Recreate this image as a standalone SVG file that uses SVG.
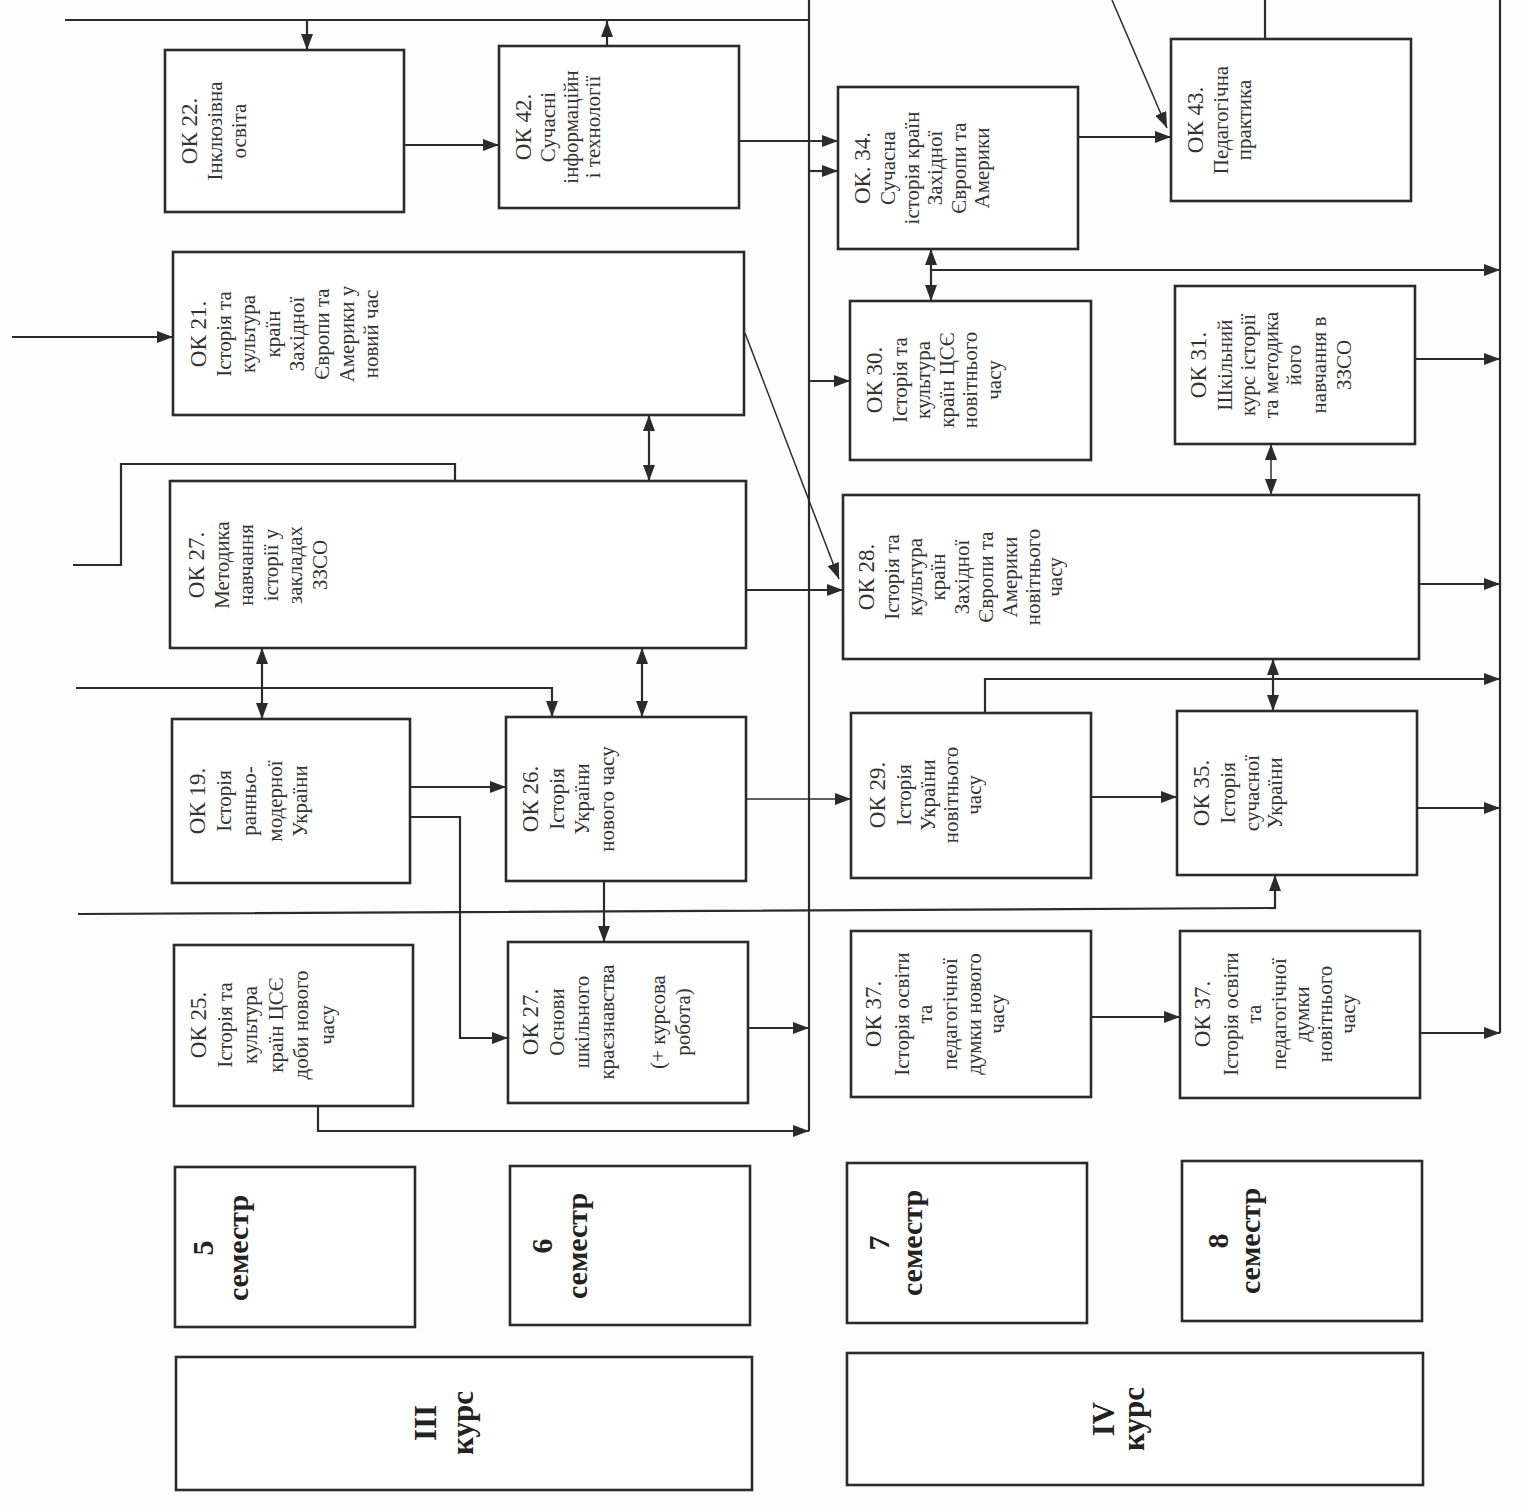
<svg xmlns="http://www.w3.org/2000/svg" width="1527" height="1505" viewBox="0 0 1527 1505">
<defs>
<marker id="ah" markerUnits="userSpaceOnUse" markerWidth="16" markerHeight="12" refX="16" refY="6" orient="auto-start-reverse"><path d="M0,0 L16,6 L0,12 z" fill="#2b2b2b"/></marker>
<style>
.box{fill:#fff;stroke:#2b2b2b;stroke-width:2.6}
.ln{fill:none;stroke:#2b2b2b;stroke-width:2.2}
.thin{fill:none;stroke:#2b2b2b;stroke-width:1.5}
.a{marker-end:url(#ah)}
.d{marker-start:url(#ah);marker-end:url(#ah)}
.t{font-family:"Liberation Serif","Times New Roman",serif;font-size:21px;fill:#333;text-anchor:middle}
.t .h{font-size:23px}
.s{font-family:"Liberation Serif","Times New Roman",serif;font-size:30px;font-weight:bold;fill:#222;text-anchor:middle}
.k{font-family:"Liberation Serif","Times New Roman",serif;font-size:31px;font-weight:bold;fill:#222;text-anchor:middle}
</style>
</defs>
<rect width="1527" height="1505" fill="#fdfdfd"/>

<g id="connectors">
<path class="ln" d="M809,0 V1131"/>
<path class="ln" d="M1500,0 V1033"/>
<path class="ln" d="M65,20 H809"/>
<path class="ln a" d="M307,20 V50"/>
<path class="ln a" d="M607,46 V21"/>
<path class="ln a" d="M404,145 H499"/>
<path class="ln a" d="M739,141 H838"/>
<path class="ln a" d="M809,171 H838"/>
<path class="thin a" d="M1112,0 L1167,128"/>
<path class="ln" d="M1265,0 V39"/>
<path class="ln a" d="M1078,137 H1171"/>
<path class="ln d" d="M931,249 V301"/>
<path class="ln a" d="M931,270 H1500"/>
<path class="ln a" d="M12,337 H173"/>
<path class="ln d" d="M649,415 V481"/>
<path class="thin a" d="M745,333 L839,579"/>
<path class="ln a" d="M809,381 H850"/>
<path class="ln a" d="M1415,359 H1500"/>
<path class="thin d" d="M1271,444 V495"/>
<path class="ln" d="M73,565 H121 V464 H455 V481"/>
<path class="ln a" d="M746,590 H843"/>
<path class="ln a" d="M1419,584 H1500"/>
<path class="ln a" d="M76,688 H552 V717"/>
<path class="ln d" d="M262,648 V719"/>
<path class="ln d" d="M642,648 V717"/>
<path class="ln d" d="M1273,659 V711"/>
<path class="ln a" d="M985,713 V679 H1500"/>
<path class="ln a" d="M410,787 H506"/>
<path class="ln a" d="M410,817 H460 V1038 H508"/>
<path class="thin a" d="M746,799 H851"/>
<path class="ln a" d="M1091,797 H1177"/>
<path class="ln a" d="M1417,808 H1500"/>
<path class="ln a" d="M78,914 L1275,908 V875"/>
<path class="ln a" d="M604,881 V942"/>
<path class="ln a" d="M748,1028 H809"/>
<path class="ln a" d="M318,1106 V1131 H809"/>
<path class="ln a" d="M1091,1017 H1180"/>
<path class="ln a" d="M1420,1033 H1500"/>
</g>

<g id="ok22"><rect class="box" x="165" y="50" width="239" height="162"/>
<text class="t" transform="translate(197,131) rotate(-90)"><tspan class="h" x="0" y="0">ОК 22.</tspan><tspan x="0" dy="24.5">Інклюзівна</tspan><tspan x="0" dy="24.5">освіта</tspan></text></g>

<g id="ok42"><rect class="box" x="499" y="46" width="240" height="162"/>
<text class="t" transform="translate(531,127) rotate(-90)"><tspan class="h" x="0" y="0">ОК 42.</tspan><tspan x="0" dy="24">Сучасні</tspan><tspan x="0" dy="23">інформаційн</tspan><tspan x="0" dy="22">і технології</tspan></text></g>

<g id="ok21"><rect class="box" x="173" y="252" width="571" height="163"/>
<text class="t" transform="translate(206,334) rotate(-90)"><tspan class="h" x="0" y="0">ОК 21.</tspan><tspan x="0" dy="24.6">Історія та</tspan><tspan x="0" dy="24.6">культура</tspan><tspan x="0" dy="24.6">країн</tspan><tspan x="0" dy="24.6">Західної</tspan><tspan x="0" dy="24.6">Європи та</tspan><tspan x="0" dy="24.6">Америки у</tspan><tspan x="0" dy="24.6">новий час</tspan></text></g>

<g id="ok27m"><rect class="box" x="170" y="481" width="576" height="167"/>
<text class="t" transform="translate(204,565) rotate(-90)"><tspan class="h" x="0" y="0">ОК 27.</tspan><tspan x="0" dy="24.6">Методика</tspan><tspan x="0" dy="24.6">навчання</tspan><tspan x="0" dy="24.6">історії у</tspan><tspan x="0" dy="24.6">закладах</tspan><tspan x="0" dy="24.6">ЗЗСО</tspan></text></g>

<g id="ok19"><rect class="box" x="172" y="719" width="238" height="164"/>
<text class="t" transform="translate(205,801) rotate(-90)"><tspan class="h" x="0" y="0">ОК 19.</tspan><tspan x="0" dy="25.5">Історія</tspan><tspan x="0" dy="25.5">ранньо-</tspan><tspan x="0" dy="25.5">модерної</tspan><tspan x="0" dy="25.5">України</tspan></text></g>

<g id="ok26"><rect class="box" x="506" y="717" width="240" height="164"/>
<text class="t" transform="translate(538,799) rotate(-90)"><tspan class="h" x="0" y="0">ОК 26.</tspan><tspan x="0" dy="25.5">Історія</tspan><tspan x="0" dy="25.5">України</tspan><tspan x="0" dy="25">нового часу</tspan></text></g>

<g id="ok25"><rect class="box" x="174" y="945" width="239" height="161"/>
<text class="t" transform="translate(206,1025) rotate(-90)"><tspan class="h" x="0" y="0">ОК 25.</tspan><tspan x="0" dy="25.5">Історія та</tspan><tspan x="0" dy="25.5">культура</tspan><tspan x="0" dy="25.5">країн ЦСЄ</tspan><tspan x="0" dy="25.5">доби нового</tspan><tspan x="0" dy="25.5">часу</tspan></text></g>

<g id="ok27o"><rect class="box" x="508" y="942" width="240" height="161"/>
<text class="t" transform="translate(538,1022) rotate(-90)"><tspan class="h" x="0" y="0">ОК 27.</tspan><tspan x="0" dy="25.5">Основи</tspan><tspan x="0" dy="25">шкільного</tspan><tspan x="0" dy="25.5">краєзнавства</tspan><tspan x="0" dy="51">(+ курсова</tspan><tspan x="0" dy="25">робота)</tspan></text></g>

<g id="ok34"><rect class="box" x="838" y="87" width="240" height="162"/>
<text class="t" transform="translate(870,168) rotate(-90)"><tspan class="h" x="0" y="0">ОК. 34.</tspan><tspan x="0" dy="24.5">Сучасна</tspan><tspan x="0" dy="24">історія країн</tspan><tspan x="0" dy="23.5">Західної</tspan><tspan x="0" dy="23.5">Європи та</tspan><tspan x="0" dy="23.5">Америки</tspan></text></g>

<g id="ok43"><rect class="box" x="1171" y="39" width="240" height="162"/>
<text class="t" transform="translate(1203,120) rotate(-90)"><tspan class="h" x="0" y="0">ОК 43.</tspan><tspan x="0" dy="24.5">Педагогічна</tspan><tspan x="0" dy="23.5">практика</tspan></text></g>

<g id="ok30"><rect class="box" x="850" y="301" width="241" height="159"/>
<text class="t" transform="translate(882,380) rotate(-90)"><tspan class="h" x="0" y="0">ОК 30.</tspan><tspan x="0" dy="24.5">Історія та</tspan><tspan x="0" dy="23.5">культура</tspan><tspan x="0" dy="23.5">країн ЦСЄ</tspan><tspan x="0" dy="23.5">новітнього</tspan><tspan x="0" dy="23.5">часу</tspan></text></g>

<g id="ok31"><rect class="box" x="1175" y="286" width="240" height="158"/>
<text class="t" transform="translate(1206,365) rotate(-90)"><tspan class="h" x="0" y="0">ОК 31.</tspan><tspan x="0" dy="26">Шкільний</tspan><tspan x="0" dy="23">курс історії</tspan><tspan x="0" dy="23">та методика</tspan><tspan x="0" dy="23">його</tspan><tspan x="0" dy="25">навчання в</tspan><tspan x="0" dy="24.5">ЗЗСО</tspan></text></g>

<g id="ok28"><rect class="box" x="843" y="495" width="576" height="164"/>
<text class="t" transform="translate(874,577) rotate(-90)"><tspan class="h" x="0" y="0">ОК 28.</tspan><tspan x="0" dy="25">Історія та</tspan><tspan x="0" dy="23">культура</tspan><tspan x="0" dy="23">країн</tspan><tspan x="0" dy="24">Західної</tspan><tspan x="0" dy="24">Європи та</tspan><tspan x="0" dy="24">Америки</tspan><tspan x="0" dy="23">новітнього</tspan><tspan x="0" dy="22">часу</tspan></text></g>

<g id="ok29"><rect class="box" x="851" y="713" width="240" height="165"/>
<text class="t" transform="translate(885,795) rotate(-90)"><tspan class="h" x="0" y="0">ОК 29.</tspan><tspan x="0" dy="26">Історія</tspan><tspan x="0" dy="23.5">України</tspan><tspan x="0" dy="23">новітнього</tspan><tspan x="0" dy="23">часу</tspan></text></g>

<g id="ok35"><rect class="box" x="1177" y="711" width="240" height="164"/>
<text class="t" transform="translate(1209,793) rotate(-90)"><tspan class="h" x="0" y="0">ОК 35.</tspan><tspan x="0" dy="26">Історія</tspan><tspan x="0" dy="23.5">сучасної</tspan><tspan x="0" dy="23.5">України</tspan></text></g>

<g id="ok37a"><rect class="box" x="851" y="931" width="240" height="166"/>
<text class="t" transform="translate(881,1014) rotate(-90)"><tspan class="h" x="0" y="0">ОК 37.</tspan><tspan x="0" dy="28">Історія освіти</tspan><tspan x="0" dy="23">та</tspan><tspan x="0" dy="25">педагогічної</tspan><tspan x="0" dy="23.5">думки нового</tspan><tspan x="0" dy="23">часу</tspan></text></g>

<g id="ok37b"><rect class="box" x="1180" y="931" width="240" height="167"/>
<text class="t" transform="translate(1210,1014) rotate(-90)"><tspan class="h" x="0" y="0">ОК 37.</tspan><tspan x="0" dy="28">Історія освіти</tspan><tspan x="0" dy="23">та</tspan><tspan x="0" dy="25">педагогічної</tspan><tspan x="0" dy="23">думки</tspan><tspan x="0" dy="23">новітнього</tspan><tspan x="0" dy="23">часу</tspan></text></g>

<g id="sem5"><rect class="box" x="175" y="1167" width="240" height="160"/>
<text class="s" transform="translate(213,1248) rotate(-90)"><tspan x="0" y="0">5</tspan><tspan x="0" dy="35">семестр</tspan></text></g>

<g id="sem6"><rect class="box" x="510" y="1166" width="240" height="159"/>
<text class="s" transform="translate(552,1246) rotate(-90)"><tspan x="0" y="0">6</tspan><tspan x="0" dy="35">семестр</tspan></text></g>

<g id="sem7"><rect class="box" x="847" y="1163" width="240" height="160"/>
<text class="s" transform="translate(889,1243) rotate(-90)"><tspan x="0" y="0">7</tspan><tspan x="0" dy="33">семестр</tspan></text></g>

<g id="sem8"><rect class="box" x="1182" y="1161" width="240" height="160"/>
<text class="s" transform="translate(1228,1241) rotate(-90)"><tspan x="0" y="0">8</tspan><tspan x="0" dy="32">семестр</tspan></text></g>

<g id="kurs3"><rect class="box" x="176" y="1357" width="576" height="133"/>
<text class="k" transform="translate(436,1423) rotate(-90)"><tspan x="0" y="0">III</tspan><tspan x="0" dy="37">курс</tspan></text></g>

<g id="kurs4"><rect class="box" x="847" y="1353" width="576" height="132"/>
<text class="k" transform="translate(1114,1419) rotate(-90)"><tspan x="0" y="0">IV</tspan><tspan x="0" dy="30">курс</tspan></text></g>
</svg>
